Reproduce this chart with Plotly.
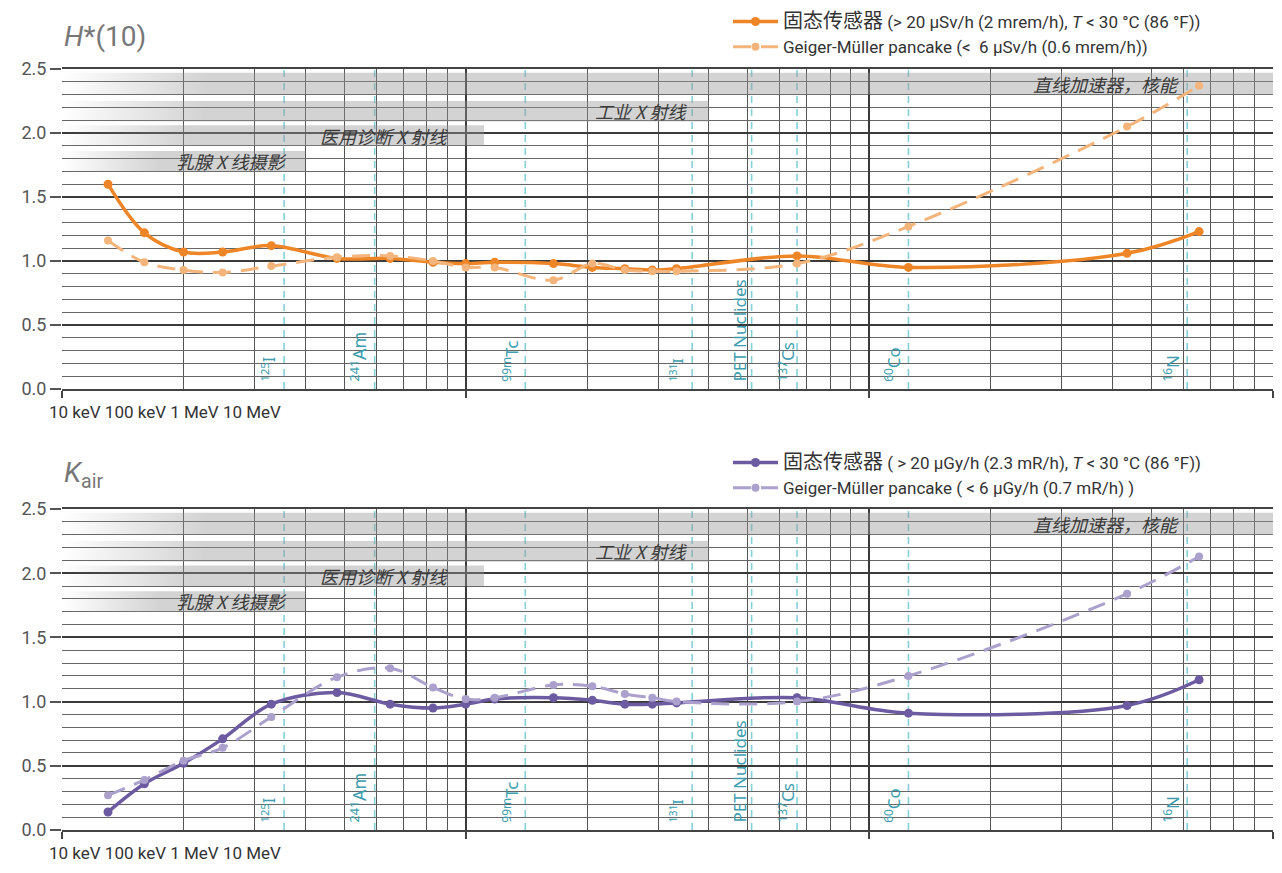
import math
import plotly.graph_objects as go

# ---------------- data ----------------
energy_kev = [13, 16, 20, 25, 33, 48, 65, 83, 100, 118, 165, 206, 248, 290, 333, 662, 1250, 4350, 6560]
h10_solid = [1.60, 1.22, 1.07, 1.07, 1.12, 1.02, 1.02, 0.99, 0.98, 0.99, 0.98, 0.95, 0.94, 0.93, 0.94, 1.04, 0.95, 1.06, 1.23]
h10_gm = [1.16, 0.99, 0.93, 0.91, 0.96, 1.03, 1.04, 1.00, 0.95, 0.95, 0.85, 0.98, 0.93, 0.92, 0.92, 0.98, 1.27, 2.05, 2.37]
kair_solid = [0.14, 0.36, 0.52, 0.71, 0.98, 1.07, 0.98, 0.95, 0.98, 1.02, 1.03, 1.01, 0.98, 0.98, 0.99, 1.03, 0.91, 0.97, 1.17]
kair_gm = [0.27, 0.39, 0.54, 0.64, 0.88, 1.19, 1.26, 1.11, 1.02, 1.03, 1.13, 1.12, 1.06, 1.03, 1.00, 1.00, 1.20, 1.84, 2.13]

h10_names = ['<span style="font-size:20px">固态传感器</span> (&gt; 20 µSv/h (2 mrem/h), <i>T</i> &lt; 30 °C (86 °F))',
             'Geiger-Müller pancake (&lt;  6 µSv/h (0.6 mrem/h))']
kair_names = ['<span style="font-size:20px">固态传感器</span> ( &gt; 20 µGy/h (2.3 mR/h), <i>T</i> &lt; 30 °C (86 °F))',
              'Geiger-Müller pancake ( &lt; 6 µGy/h (0.7 mR/h) )']

band_labels = ["乳腺 X 线摄影", "医用诊断 X 射线", "工业 X 射线", "直线加速器，核能"]
band_start_kev = [10, 10, 10, 10]
band_end_kev = [40, 111, 400, 10000]
band_y_low = [1.70, 1.90, 2.09, 2.30]
band_y_high = [1.86, 2.06, 2.25, 2.47]
band_label_kev = [26.2, 62.7, 272.6, 3860]
band_fade = [0.40, 0.30, 0.22, 0.12]

nuclide_kev = [35.5, 59.5, 140.5, 364, 511, 662, 1250, 6130]
nuclide_labels = ["<sup>125</sup>I", "<sup>241</sup>Am", "<sup>99m</sup>Tc", "<sup>131</sup>I",
                  "PET Nuclides", "<sup>137</sup>Cs", "<sup>60</sup>Co", "<sup>16</sup>N"]
nuclide_size = [16, 18, 17, 15, 17, 17, 17, 17]
nuclide_shift = [-15, -16, -15, -16, -12, -11, -16, -16]

x_tick_labels = ["10 keV", "100 keV", "1 MeV", "10 MeV"]
y_titles = ["<i>H</i>*(10)", "<i>K</i><sub>air</sub>"]

# ---------------- styles ----------------
FONT = "Roboto, Noto Sans CJK SC, sans-serif"
CJK = "Noto Sans CJK SC, sans-serif"
panels = [
    dict(solid=h10_solid, gm=h10_gm, names=h10_names, c1="#EE8526", c2="#F3B57C",
         xa="x", ya="y", legend="legend"),
    dict(solid=kair_solid, gm=kair_gm, names=kair_names, c1="#6C5BA0", c2="#ABA1CC",
         xa="x2", ya="y2", legend="legend2"),
]

fig = go.Figure()

for p in panels:
    for lab, e0, e1, ylo, yhi, fade in zip(band_labels, band_start_kev, band_end_kev,
                                            band_y_low, band_y_high, band_fade):
        fig.add_trace(go.Scatter(
            x=[e0, e1, e1, e0, e0], y=[ylo, ylo, yhi, yhi, ylo],
            mode="lines", line=dict(width=0), fill="toself",
            fillgradient=dict(type="horizontal",
                              colorscale=[[0, "rgba(150,150,150,0)"],
                                          [fade, "rgba(150,150,150,0.42)"],
                                          [1, "rgba(150,150,150,0.42)"]]),
            xaxis=p["xa"], yaxis=p["ya"], showlegend=False, hoverinfo="skip"))
    fig.add_trace(go.Scatter(
        x=energy_kev, y=p["solid"], name=p["names"][0], mode="lines+markers",
        line=dict(color=p["c1"], width=3.5, shape="spline", smoothing=1),
        marker=dict(color=p["c1"], size=9),
        xaxis=p["xa"], yaxis=p["ya"], legend=p["legend"], legendrank=1))
    fig.add_trace(go.Scatter(
        x=energy_kev, y=p["gm"], name=p["names"][1], mode="lines+markers",
        line=dict(color=p["c2"], width=3, dash="18px,10px", shape="spline", smoothing=1),
        marker=dict(color=p["c2"], size=8),
        xaxis=p["xa"], yaxis=p["ya"], legend=p["legend"], legendrank=2))

annotations = []
shapes = []
for p, ytitle in zip(panels, y_titles):
    xa, ya = p["xa"], p["ya"]
    xdom = xa + " domain"
    ydom = ya + " domain"
    for lab, ek, ylo, yhi in zip(band_labels, band_label_kev, band_y_low, band_y_high):
        annotations.append(dict(x=math.log10(ek), y=(ylo + yhi) / 2, xref=xa, yref=ya,
                                text="<i>" + lab + "</i>", showarrow=False,
                                font=dict(family=CJK, size=18, color="#3a3a3a")))
    for ek, lab, fs, sh in zip(nuclide_kev, nuclide_labels, nuclide_size, nuclide_shift):
        shapes.append(dict(type="line", x0=ek, x1=ek, y0=0, y1=2.5, xref=xa, yref=ya,
                           line=dict(color="#86D0D8", width=1.6, dash="7px,6px"), layer="between"))
        annotations.append(dict(x=math.log10(ek), y=0.04, xref=xa, yref=ya, text=lab,
                                textangle=-90, showarrow=False, xanchor="center", yanchor="bottom",
                                xshift=sh, font=dict(family="Noto Sans, sans-serif", size=fs, color="#3E9DAE")))
    annotations.append(dict(x=-0.012, y=-0.072, xref=xdom, yref=ydom, xanchor="left", yanchor="middle",
                            text=" ".join(x_tick_labels), showarrow=False,
                            font=dict(family=FONT, size=17, color="#333")))
    annotations.append(dict(x=0.0, y=1.0, xref=xdom, yref=ydom, xanchor="left", yanchor="bottom",
                            yshift=14, text=ytitle, showarrow=False,
                            font=dict(family=FONT, size=28, color="#777")))

axis_x = dict(type="log", range=[1, 4], dtick=1, showticklabels=False,
              ticks="outside", ticklen=7, tickcolor="#444", tickwidth=1.5,
              showgrid=True, gridcolor="#3a3a3a", gridwidth=1.6,
              minor=dict(dtick="D1", showgrid=True, gridcolor="#555", gridwidth=1.1, ticks=""),
              showline=True, linecolor="#444", linewidth=1.5, mirror=True, zeroline=False,
              fixedrange=True)
axis_y = dict(range=[0, 2.5], dtick=0.5, tickformat=".1f", ticks="outside", ticklen=11,
              tickcolor="#555", tickwidth=1.5, showgrid=True, gridcolor="#3a3a3a", gridwidth=2,
              minor=dict(dtick=0.1, showgrid=True, gridcolor="#666", gridwidth=1.2),
              tickfont=dict(family=FONT, size=18, color="#555"), zeroline=False,
              showline=False, fixedrange=True)

OFF = 8              # page body margin
W, H = 1282 - OFF, 873 - OFF
T, B = 10, 10
def dom(top_page, bot_page):
    h = H - T - B
    return [(H - B - (bot_page - OFF)) / h, (H - B - (top_page - OFF)) / h]
def ypaper(page_y):
    return (H - B - (page_y - OFF)) / (H - T - B)

legend_common = dict(bgcolor="rgba(0,0,0,0)", font=dict(family=FONT, size=17, color="#333"),
                     itemwidth=45, tracegroupgap=0, xanchor="left", yanchor="top",
                     traceorder="normal", itemclick=False)

fig.update_layout(
    width=W, height=H,
    margin=dict(l=62 - OFF, r=9, t=T, b=B, autoexpand=False),
    paper_bgcolor="white", plot_bgcolor="white",
    xaxis=dict(axis_x, domain=[0, 1], anchor="y"),
    yaxis=dict(axis_y, domain=dom(69, 389), anchor="x"),
    xaxis2=dict(axis_x, domain=[0, 1], anchor="y2"),
    yaxis2=dict(axis_y, domain=dom(509, 830), anchor="x2"),
    legend=dict(legend_common, x=(728 - 62) / 1211, y=ypaper(4)),
    legend2=dict(legend_common, x=(728 - 62) / 1211, y=ypaper(445)),
    annotations=annotations, shapes=shapes,
    showlegend=True,
)

fig.write_html("out.html")
